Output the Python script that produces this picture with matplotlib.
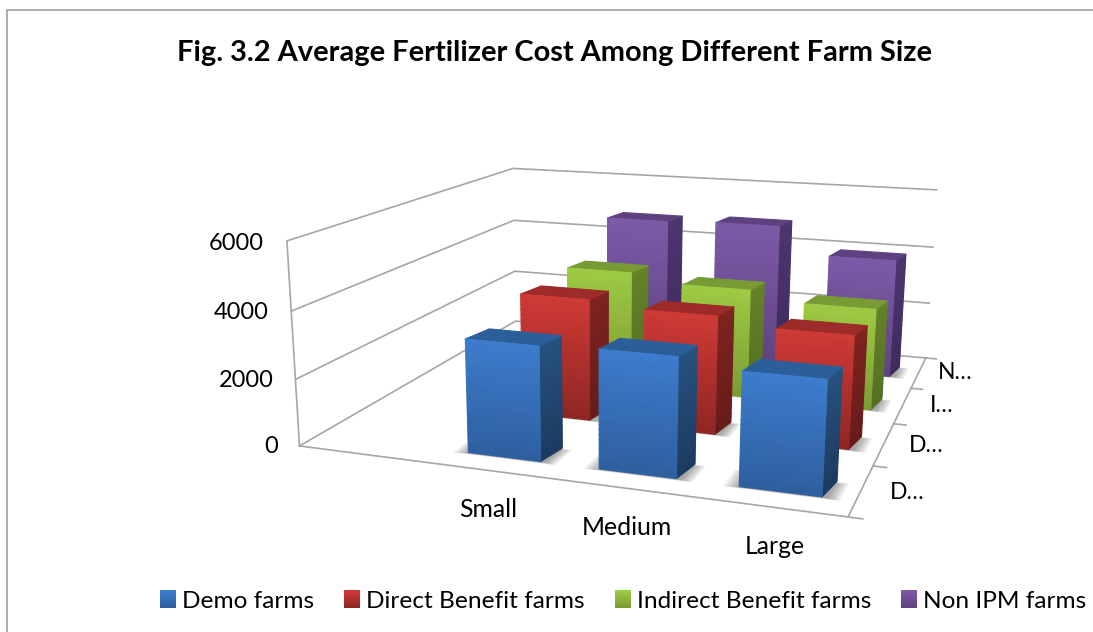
import numpy as np
import matplotlib
matplotlib.use("Agg")
import matplotlib.pyplot as plt
from matplotlib.legend_handler import HandlerBase
from matplotlib.lines import Line2D
from matplotlib.patches import Patch, Rectangle
from mpl_toolkits.mplot3d.art3d import Poly3DCollection

plt.rcParams["font.family"] = "Lato"

# ── Data ──────────────────────────────────────────────────────────────
farm_sizes = ["Small", "Medium", "Large"]
series_names = ["Demo farms", "Direct Benefit farms", "Indirect Benefit farms", "Non IPM farms"]
depth_labels = ["D…", "D…", "I…", "N…"]
demo_cost = [3340, 3415, 3190]
direct_cost = [3770, 3600, 3370]
indirect_cost = [3800, 3530, 3230]
non_ipm_cost = [4830, 4900, 3990]
cost_ticks = [0, 2000, 4000, 6000]

series_values = [demo_cost, direct_cost, indirect_cost, non_ipm_cost]

# front top, front bottom, top face, side top, side bottom
palette = [
    ("#3D7CCD", "#2E5F9F", "#2C5F9A", "#26527F", "#1C3A60"),
    ("#CF3A36", "#8F2623", "#9C2B29", "#7E2320", "#661C1A"),
    ("#9ECB44", "#7C9C33", "#779A35", "#658229", "#557024"),
    ("#7D59A8", "#5F4480", "#5E4180", "#4D3570", "#3F2B5D"),
]

# Camera matrix, maps (category, series, cost) to figure pixels
M = np.array([
    [1.459369e+02, 1.007273e+02, -3.995672e-03, 2.994920e+02],
    [1.164715e+00, -2.149689e+00, -3.576696e-02, 4.459514e+02],
    [0.0, 1.0, 0.0, 0.0],
    [-4.353000e-02, 9.053717e-02, -6.622954e-06, 1.0],
])

fig = plt.figure(figsize=(10.93, 6.32), dpi=100)
# square 3D axes whose 2D view lines up with figure pixels
ax = fig.add_axes([0, -230.5 / 632, 1, 1093 / 632], projection="3d")
ax.set_proj_type("ortho")
ax.get_proj = lambda: M
ax.viewLim.intervalx = (0, 1093)
ax.viewLim.intervaly = (862.5, -230.5)
ax.set_axis_off()
ax.computed_zorder = False


def blend(c1, c2, t):
    a = np.array(matplotlib.colors.to_rgb(c1))
    return tuple(a + (np.array(matplotlib.colors.to_rgb(c2)) - a) * t)


def add_bar(x0, y0, w, d, skew, h, cols, z):
    x1, y1 = x0 + w, y0 + d
    front_t, front_b, top, side_t, side_b = cols
    faces, colors = [], []
    n = 24
    for k in range(n):
        z0, z1 = h * k / n, h * (k + 1) / n
        t = 1 - (k + 0.5) / n
        faces.append([(x0, y0, z0), (x1, y0, z0), (x1, y0, z1), (x0, y0, z1)])
        colors.append(blend(front_t, front_b, t))
        faces.append([(x1, y0, z0), (x1 + skew, y1, z0), (x1 + skew, y1, z1), (x1, y0, z1)])
        colors.append(blend(side_t, side_b, t))
    faces.append([(x0, y0, h), (x1, y0, h), (x1 + skew, y1, h), (x0 + skew, y1, h)])
    colors.append(top)
    poly = Poly3DCollection(faces, facecolors=colors, edgecolors=colors, linewidths=0.8, zorder=z)
    ax.add_collection3d(poly, autolim=False)


def add_shadow(x0, y0, w, d, z):
    for grow in np.linspace(0.09, 0.0, 10):
        sx0, sy0 = x0 - grow * 0.9, y0 - 0.015 - grow * 0.2
        sx1, sy1 = x0 + w + 0.03 + grow * 0.7, y0 + d - 0.04 + grow * 0.3
        poly = Poly3DCollection([[(sx0, sy0, 0), (sx1, sy0, 0), (sx1, sy1, 0), (sx0, sy1, 0)]],
                                facecolors=(0.2, 0.2, 0.2, 0.05), edgecolors="none", zorder=z)
        ax.add_collection3d(poly, autolim=False)


class GradientSwatch(HandlerBase):
    # legend key filled top to bottom, like the bar fronts
    def create_artists(self, legend, orig_handle, xdescent, ydescent, width, height, fontsize, trans):
        top, bottom = orig_handle.colors
        n = 10
        strips = []
        for k in range(n):
            c = blend(top, bottom, k / (n - 1))
            y = -ydescent + height * (n - 1 - k) / n
            strips.append(Rectangle((-xdescent, y), width, height / n * 1.1,
                                    facecolor=c, edgecolor="none", transform=trans))
        return strips


class Swatch(Patch):
    def __init__(self, top, bottom):
        super().__init__()
        self.colors = (top, bottom)


# ── Walls, floor and grid ─────────────────────────────────────────────
wall = dict(color="#A6A6A6", linewidth=1.2, zorder=1)
for c in cost_ticks:
    ax.plot([0, 0, 3], [0, 4, 4], [c, c, c], **wall)
ax.plot([0, 0], [0, 0], [0, 6000], **wall)
ax.plot([0, 3, 3], [0, 0, 4], [0, 0, 0], **wall)
for j in range(5):
    ax.plot([3, 3.07], [j, j], [0, 0], **wall)

# ── Bars, back row first ──────────────────────────────────────────────
bar_w, bar_d, bar_skew = 0.42, 0.32, 0.03
order = 2
for j in reversed(range(4)):
    for i in range(3):
        x0, y0 = 0.914 + 0.75 * i, 0.29 + j
        add_shadow(x0, y0, bar_w, bar_d, order)
        add_bar(x0, y0, bar_w, bar_d, bar_skew, series_values[j][i], palette[j], order + 1)
        order += 2

# ── Text ──────────────────────────────────────────────────────────────
for c in cost_ticks:
    ax.text(-0.14, 0, c - 110, f"{c}", ha="right", va="center", fontsize=17, color="black")
for i, name in enumerate(farm_sizes):
    ax.text(1.35 + 0.7 * i, -0.66 + 0.02 * i, 0, name, ha="center", va="center", fontsize=17.8, color="black")
for j, name in enumerate(depth_labels):
    ax.text(3.22, 0.56 + 1.015 * j, 0, name, ha="center", va="center", fontsize=16.5, color="black")

fig.text(554.5 / 1093, 1 - 53 / 632, "Fig. 3.2 Average Fertilizer Cost Among Different Farm Size",
         ha="center", va="center", fontsize=20.9, fontweight="bold")

handles = [Swatch(cols[0], cols[1]) for cols in palette]
fig.legend(handles, series_names, loc="center left", bbox_to_anchor=(160 / 1093, 1 - 601 / 632),
           ncol=4, frameon=False, fontsize=17.6, handlelength=0.65, handleheight=0.75,
           handletextpad=0.25, columnspacing=1.23, borderpad=0, borderaxespad=0,
           handler_map={Swatch: GradientSwatch()})

# chart area border
fig.add_artist(Line2D([7 / 1093, 7 / 1093, 1], [0, 1 - 10 / 632, 1 - 10 / 632], color="#A0A0A0", linewidth=1.2))

fig.savefig("out.png", dpi=100)
